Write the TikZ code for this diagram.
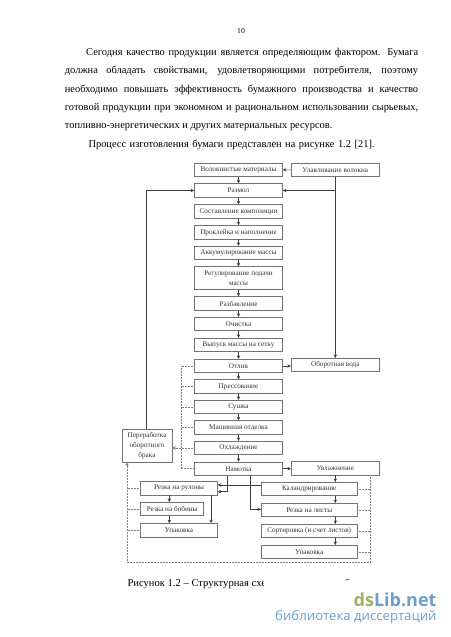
\documentclass[tikz,border=0pt]{standalone}
\usepackage{fontspec}
\setmainfont{Liberation Serif}
\newfontfamily\wmfont{Open Sans}
\usetikzlibrary{arrows.meta}
\definecolor{boxgray}{rgb}{0.45, 0.45, 0.45}
\definecolor{dotgray}{rgb}{0.5, 0.5, 0.5}
\definecolor{dsgreen}{rgb}{0.62, 0.69, 0.38}
\definecolor{dsblue}{rgb}{0.42, 0.62, 0.80}
\tikzset{
    procbox/.style = {draw = boxgray, line width = 0.8pt, inner sep = 0pt, minimum width = 88pt, minimum height = 13.4pt, align = center, text = black!80, font = \fontsize{7.2}{10}\selectfont},
    link/.style = {-{Stealth[length = 3.5pt, width = 3.5pt]}, line width = 0.5pt, color = black!75},
    dotlink/.style = {densely dotted, line width = 0.5pt, color = dotgray},
    pagetext/.style = {inner sep = 0pt, anchor = north west, text width = 353.3pt, align = justify, font = \fontsize{10.45}{18.3}\selectfont}
}
\begin{document}
\begin{tikzpicture}[x = 1pt, y = -1pt]
    \useasboundingbox (0, 0) rectangle (450, 637);

    \node[font = \fontsize{7.6}{9}\selectfont] (pagenum) at (241, 31.5) {10};
    \node[pagetext] (para) at (64.7, 48) {\hyphenpenalty=10000\hspace*{21.3pt}Сегодня качество продукции является определяющим фактором. Бумага должна обладать свойствами, удовлетворяющими потребителя, поэтому необходимо повышать эффективность бумажного производства и качество готовой продукции при экономном и рациональном использовании сырьевых, топливно-энергетических и других материальных ресурсов.};
    \node[pagetext, text width = 300pt, align = left] (parb) at (88.3, 139.8) {Процесс изготовления бумаги представлен на рисунке 1.2 [21].};

    \node[procbox] (volok) at (238.5, 169.7) {Волокнистые материалы};
    \node[procbox] (razmol) at (238.5, 190.5) {Размол};
    \node[procbox] (sostav) at (238.5, 211.5) {Составление композиции};
    \node[procbox] (prokl) at (238.5, 232.3) {Проклейка и наполнение};
    \node[procbox] (akkum) at (238.5, 253) {Аккумулирование массы};
    \node[procbox, minimum height = 22.6pt] (regul) at (238.5, 278) {Регулирование подачи\\массы};
    \node[procbox] (razbav) at (238.5, 303.5) {Разбавление};
    \node[procbox] (ochist) at (238.5, 324) {Очистка};
    \node[procbox] (vypusk) at (238.5, 345) {Выпуск массы на сетку};
    \node[procbox] (otliv) at (238.5, 366) {Отлив};
    \node[procbox] (press) at (238.5, 386.5) {Прессование};
    \node[procbox] (sushka) at (238.5, 407) {Сушка};
    \node[procbox] (mashin) at (238.5, 427.5) {Машинная отделка};
    \node[procbox] (ohlazh) at (238.5, 448) {Охлаждение};
    \node[procbox] (namot) at (238.5, 468.7) {Намотка};

    \node[procbox] (ulav) at (335.3, 170) {Улавливание волокна};
    \node[procbox] (oborot) at (335.3, 365) {Оборотная вода};
    \node[procbox] (uvlazh) at (335.3, 468.3) {Увлажнение};

    \node[procbox, minimum width = 50pt, minimum height = 32.3pt] (perer) at (147, 446) {Переработка\\оборотного\\брака};

    \node[procbox, minimum width = 76.6pt] (rulon) at (179, 488.3) {Резка на рулоны};
    \node[procbox, minimum width = 63pt] (bobin) at (172.2, 509) {Резка на бобины};
    \node[procbox, minimum width = 76.6pt] (upakl) at (179, 530.3) {Упаковка};

    \node[procbox, minimum width = 95.7pt] (kaland) at (309.2, 489) {Каландрирование};
    \node[procbox, minimum width = 95.7pt] (listy) at (309.2, 510) {Резка на листы};
    \node[procbox, minimum width = 95.7pt] (sort) at (309.2, 531) {Сортировка (и счет листов)};
    \node[procbox, minimum width = 95.7pt] (upakr) at (309.2, 552) {Упаковка};

    \coordinate (razbr) at (335.3, 190.5);
    \coordinate (pererup) at (146, 190.5);
    \coordinate (dotl) at (181, 366);
    \coordinate (dotr) at (370.3, 562.3);
    \coordinate (dotb) at (127, 562.3);
    \coordinate (nama) at (227.3, 491.7);
    \coordinate (namb) at (250.3, 509.3);
    \coordinate (kaly) at (290, 485);
    \coordinate (rulx) at (211, 495);
    \coordinate (rboby) at (169.3, 495);

    \draw[link] (volok) -- (razmol);
    \draw[link] (razmol) -- (sostav);
    \draw[link] (sostav) -- (prokl);
    \draw[link] (prokl) -- (akkum);
    \draw[link] (akkum) -- (regul);
    \draw[link] (regul) -- (razbav);
    \draw[link] (razbav) -- (ochist);
    \draw[link] (ochist) -- (vypusk);
    \draw[link] (vypusk) -- (otliv);
    \draw[link] (otliv) -- (press);
    \draw[link] (press) -- (sushka);
    \draw[link] (sushka) -- (mashin);
    \draw[link] (mashin) -- (ohlazh);
    \draw[link] (ohlazh) -- (namot);

    \draw[link] (ulav) -- (volok);
    \draw[link] (ulav) -- (oborot);
    \draw[link] (razbr) -- (razmol);
    \draw[link] (perer.north -| pererup) -- (pererup) -- (razmol);
    \draw[link] (otliv.east) -- (oborot.west |- otliv.east);
    \draw[link] (namot) -- (uvlazh.west |- namot);
    \draw[link] (uvlazh) -- (uvlazh.south |- kaland.north);
    \draw[link] (uvlazh.south |- kaland.south) -- (uvlazh.south |- listy.north);
    \draw[link] (uvlazh.south |- listy.south) -- (uvlazh.south |- sort.north);
    \draw[link] (uvlazh.south |- sort.south) -- (uvlazh.south |- upakr.north);

    \draw[link] (namot.south -| nama) -- (nama) -- (nama -| rulon.east);
    \draw[link] (namot.south -| namb) -- (namb) -- (namb -| listy.west);
    \draw[link] (kaland.west |- kaly) -- (rulon.east |- kaly);
    \draw[link] (rulon.south -| rulx) -- (upakl.north -| rulx);
    \draw[link] (rulon.south -| rboby) -- (bobin.north -| rboby);
    \draw[link] (bobin.south -| rboby) -- (upakl.north -| rboby);

    \draw[dotlink] (otliv.west) -- (dotl) -- (dotl |- namot.west) -- (namot.west);
    \draw[dotlink] (press.west) -- (dotl |- press.west);
    \draw[dotlink] (sushka.west) -- (dotl |- sushka.west);
    \draw[dotlink] (mashin.west) -- (dotl |- mashin.west);
    \draw[dotlink, -{Stealth[length = 3.5pt, width = 3.5pt]}] (ohlazh.west) -- (perer.east |- ohlazh.west);

    \draw[dotlink] (uvlazh.south -| dotr) -- (dotr) -- (dotb);
    \draw[dotlink, -{Stealth[length = 3.5pt, width = 3.5pt]}] (dotb) -- (perer.south -| dotb);
    \draw[dotlink] (kaland.east) -- (kaland.east -| dotr);
    \draw[dotlink] (listy.east) -- (listy.east -| dotr);
    \draw[dotlink] (sort.east) -- (sort.east -| dotr);
    \draw[dotlink] (upakr.east) -- (upakr.east -| dotr);
    \draw[dotlink] (rulon.west) -- (rulon.west -| dotb);
    \draw[dotlink] (bobin.west) -- (bobin.west -| dotb);
    \draw[dotlink] (upakl.west) -- (upakl.west -| dotb);

    \node[anchor = west, inner sep = 0pt, font = \fontsize{10.6}{12}\selectfont] (caption) at (127.3, 584) {Рисунок 1.2 – Структурная схе};
    \fill[white] (264, 575) rectangle (330, 592);
    \draw[line width = 0.5pt] (345, 580) -- (349, 579.5);

    \node[anchor = east, inner sep = 0pt, font = \wmfont\bfseries\fontsize{18}{20}\selectfont] (wmname) at (436.7, 600) {\textcolor{dsgreen}{ds}\textcolor{dsblue}{Lib.net}};
    \node[anchor = east, inner sep = 0pt, text = dsblue, font = \wmfont\fontsize{13.2}{15}\selectfont] (wmsub) at (436.7, 616.7) {библиотека диссертаций};
\end{tikzpicture}
\end{document}
